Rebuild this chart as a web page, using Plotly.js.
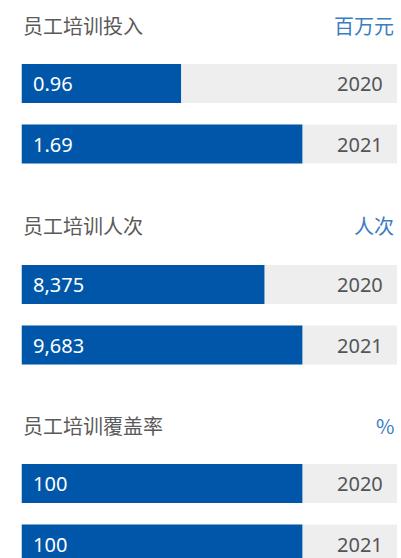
<!DOCTYPE html>
<html>
<head>
<meta charset="utf-8">
<script src="https://cdn.plot.ly/plotly-3.0.1.min.js"></script>
<style>html,body{margin:0;padding:0;background:#fff;}#chart{width:401px;height:558px;}</style>
</head>
<body>
<div id="chart"></div>
<script>
// ---- data ----
const years = ['2020', '2021'];
const panelTitles = ['员工培训投入', '员工培训人次', '员工培训覆盖率'];
const panelUnits = ['百万元', '人次', '%'];
const investment = [0.96, 1.69];      // 百万元
const trainees = [8375, 9683];        // 人次
const coverage = [100, 100];          // %
const decimals = [2, 0, 0];

const series = [investment, trainees, coverage];

// ---- style / geometry ----
const W = 401, H = 558;
const BLUE = '#0057A9', GREY = '#EEEEEE', TITLE = '#5A5A5A', YEAR = '#555555', UNIT = '#3B7CC3';
const FONT = '"Noto Sans", "Noto Sans CJK SC", sans-serif';
const xLeft = 21.5, xRight = 397;
const maxFrac = 0.748;           // max bar fills this share of the track
const firstCenters = [83.5, 284.5, 483.5];
const step = 60.5;

const traces = [], annotations = [];
const layout = {
  width: W, height: H,
  margin: {l: 0, r: 0, t: 0, b: 0},
  paper_bgcolor: '#ffffff', plot_bgcolor: 'rgba(0,0,0,0)',
  showlegend: false, barmode: 'overlay', bargap: 1 - 39 / step,
  font: {family: FONT},
  annotations: annotations
};

function fmt(v, d) {
  return v.toLocaleString('en-US', {minimumFractionDigits: d, maximumFractionDigits: d});
}

series.forEach((vals, k) => {
  const xa = k === 0 ? 'x' : 'x' + (k + 1);
  const ya = k === 0 ? 'y' : 'y' + (k + 1);
  const xmax = Math.max(...vals) / maxFrac;
  const c1 = firstCenters[k];
  const topPx = c1 - step / 2;
  let botPx = c1 + step * 1.5;
  let rangeBottom = 1.5;
  if (botPx > H) { rangeBottom = -0.5 + (H - topPx) / step; botPx = H; }

  layout['xaxis' + (k === 0 ? '' : k + 1)] = {
    domain: [xLeft / W, xRight / W], range: [0, xmax], anchor: ya,
    visible: false, fixedrange: true
  };
  layout['yaxis' + (k === 0 ? '' : k + 1)] = {
    domain: [1 - botPx / H, 1 - topPx / H], range: [rangeBottom, -0.5],
    type: 'category', anchor: xa, visible: false, fixedrange: true
  };

  // track
  traces.push({type: 'bar', orientation: 'h', x: years.map(() => xmax), y: years,
    xaxis: xa, yaxis: ya, marker: {color: GREY, line: {width: 0}}, hoverinfo: 'skip'});
  // values
  traces.push({type: 'bar', orientation: 'h', x: vals, y: years,
    xaxis: xa, yaxis: ya, marker: {color: BLUE, line: {width: 0}}, hoverinfo: 'skip'});

  vals.forEach((v, i) => {
    annotations.push({xref: xa, yref: ya, x: 0, y: i, xanchor: 'left', yanchor: 'middle',
      xshift: 9.5, text: fmt(v, decimals[k]), showarrow: false,
      font: {family: FONT, size: 20, color: '#ffffff'}});
    annotations.push({xref: xa, yref: ya, x: xmax, y: i, xanchor: 'right', yanchor: 'middle',
      xshift: -12, text: years[i], showarrow: false,
      font: {family: FONT, size: 20, color: YEAR}});
  });

  const titleY = 1 - (c1 - 58.5) / H;
  annotations.push({xref: 'paper', yref: 'paper', x: 21 / W, y: titleY, xanchor: 'left', yanchor: 'middle',
    text: panelTitles[k], showarrow: false, font: {family: '"Noto Sans CJK SC", sans-serif', size: 20, color: TITLE}});
  annotations.push({xref: 'paper', yref: 'paper', x: 396 / W, y: titleY, xanchor: 'right', yanchor: 'middle',
    text: panelUnits[k], showarrow: false, font: {family: '"Noto Sans CJK SC", sans-serif', size: 20, color: UNIT}});
});

Plotly.newPlot('chart', traces, layout, {displayModeBar: false, staticPlot: true});
</script>
</body>
</html>
